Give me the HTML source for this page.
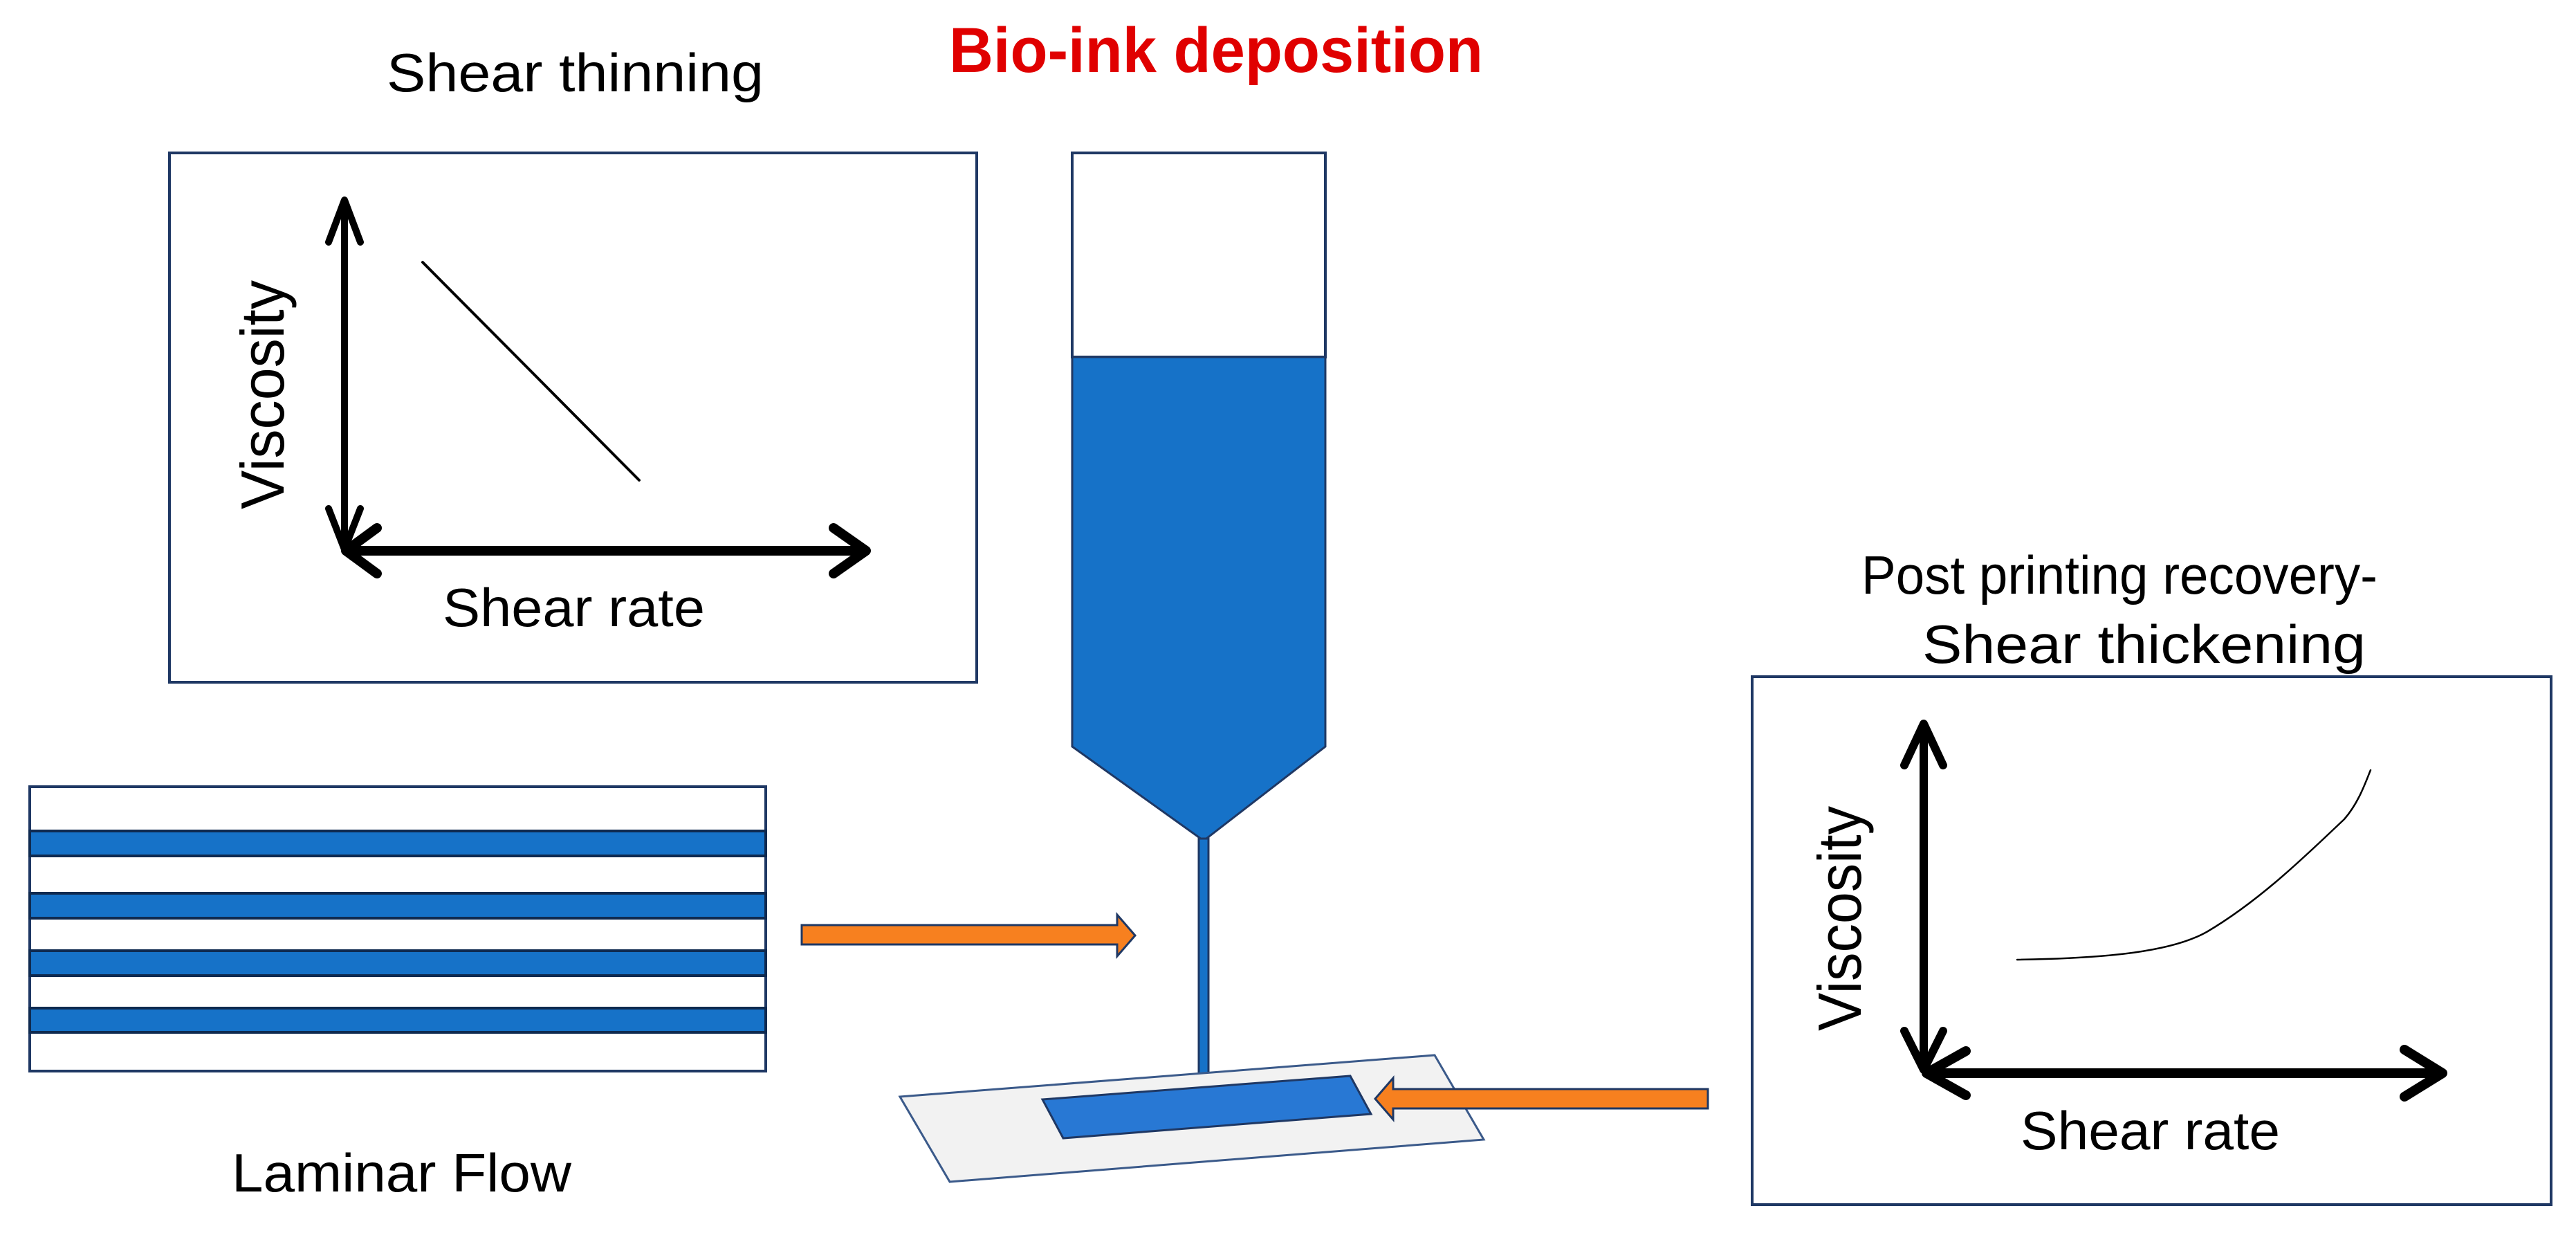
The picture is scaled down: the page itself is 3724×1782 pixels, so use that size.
<!DOCTYPE html>
<html><head><meta charset="utf-8"><style>html,body{margin:0;padding:0;background:#fff}svg{display:block}</style></head>
<body>
<svg width="3724" height="1782" viewBox="0 0 3724 1782" xmlns="http://www.w3.org/2000/svg" font-family="'Liberation Sans', sans-serif">
<rect width="3724" height="1782" fill="#fff"/>
<!-- titles -->
<text x="559" y="132" font-size="78" textLength="545" lengthAdjust="spacingAndGlyphs">Shear thinning</text>
<text x="1372" y="104" font-size="92" font-weight="bold" fill="#e00000" textLength="772" lengthAdjust="spacingAndGlyphs">Bio-ink deposition</text>
<text x="2691" y="858" font-size="78" textLength="746" lengthAdjust="spacingAndGlyphs">Post printing recovery-</text>
<text x="2779" y="958" font-size="78" textLength="641" lengthAdjust="spacingAndGlyphs">Shear thickening</text>
<text x="335" y="1722" font-size="78" textLength="491" lengthAdjust="spacingAndGlyphs">Laminar Flow</text>

<!-- box1 -->
<rect x="245" y="221" width="1167" height="765" fill="#fff" stroke="#1f3864" stroke-width="4"/>
<g stroke="#000" fill="none" stroke-linecap="round" stroke-linejoin="round">
<line x1="498" y1="294" x2="498" y2="790" stroke-width="10"/>
<polyline points="475,350 498,289 521,350" stroke-width="10"/>
<polyline points="475,735 498,794 521,735" stroke-width="10"/>
<line x1="502" y1="796" x2="1246" y2="796" stroke-width="14"/>
<polyline points="1205,763 1252,796 1205,829" stroke-width="14"/>
<polyline points="545,763 500,796 545,829" stroke-width="14"/>
<line x1="611" y1="379" x2="924" y2="694" stroke-width="4"/>
</g>
<text transform="translate(410,736) rotate(-90)" font-size="88" textLength="331" lengthAdjust="spacingAndGlyphs">Viscosity</text>
<text x="640" y="905" font-size="78" textLength="379" lengthAdjust="spacingAndGlyphs">Shear rate</text>

<!-- syringe -->
<rect x="1550" y="221" width="366" height="295" fill="#fff" stroke="#1f3864" stroke-width="4"/>
<polygon points="1550,516 1916,516 1916,1079 1740,1215 1550,1079" fill="#1672c8" stroke="#1f3864" stroke-width="3"/>
<rect x="1733" y="1212" width="14" height="366" fill="#1672c8" stroke="#1f3864" stroke-width="3"/>

<!-- slide -->
<polygon points="1301,1585 2074,1525 2145,1647 1373,1708" fill="#f2f2f2" stroke="#3b5a8a" stroke-width="3"/>
<polygon points="1507,1589 1952,1555 1982,1610 1537,1645" fill="#2878d4" stroke="#1f3864" stroke-width="3"/>

<!-- laminar -->
<rect x="43" y="1137" width="1064" height="411" fill="#fff" stroke="#1f3864" stroke-width="4"/>
<g fill="#1672c8" stroke="#0f2a50" stroke-width="4">
<rect x="43" y="1201" width="1064" height="36"/>
<rect x="43" y="1291" width="1064" height="36"/>
<rect x="43" y="1374" width="1064" height="36"/>
<rect x="43" y="1457" width="1064" height="35"/>
</g>

<!-- orange arrows -->
<polygon points="1159,1337 1615,1337 1615,1322 1641,1352 1615,1382 1615,1365 1159,1365" fill="#f7801f" stroke="#1f3864" stroke-width="3"/>
<polygon points="2469,1574 2014,1574 2014,1558 1988,1588 2014,1618 2014,1602 2469,1602" fill="#f7801f" stroke="#1f3864" stroke-width="3"/>

<!-- box2 -->
<rect x="2533" y="978" width="1155" height="763" fill="#fff" stroke="#1f3864" stroke-width="4"/>
<g stroke="#000" fill="none" stroke-linecap="round" stroke-linejoin="round">
<line x1="2781" y1="1052" x2="2781" y2="1540" stroke-width="12"/>
<polyline points="2753,1106 2781,1046 2809,1106" stroke-width="12"/>
<polyline points="2753,1490 2781,1546 2809,1490" stroke-width="12"/>
<line x1="2787" y1="1551" x2="3525" y2="1551" stroke-width="14"/>
<polyline points="3476,1517 3531,1551 3476,1585" stroke-width="14"/>
<polyline points="2842,1519 2785,1551 2842,1583" stroke-width="14"/>
<path d="M2916,1387 C3050,1385 3140,1375 3190,1347 C3270,1300 3340,1230 3389,1184 C3410,1160 3420,1130 3427,1113" stroke-width="2.5"/>
</g>
<text transform="translate(2690,1490) rotate(-90)" font-size="88" textLength="325" lengthAdjust="spacingAndGlyphs">Viscosity</text>
<text x="2921" y="1661" font-size="78" textLength="375" lengthAdjust="spacingAndGlyphs">Shear rate</text>
</svg>
</body></html>
